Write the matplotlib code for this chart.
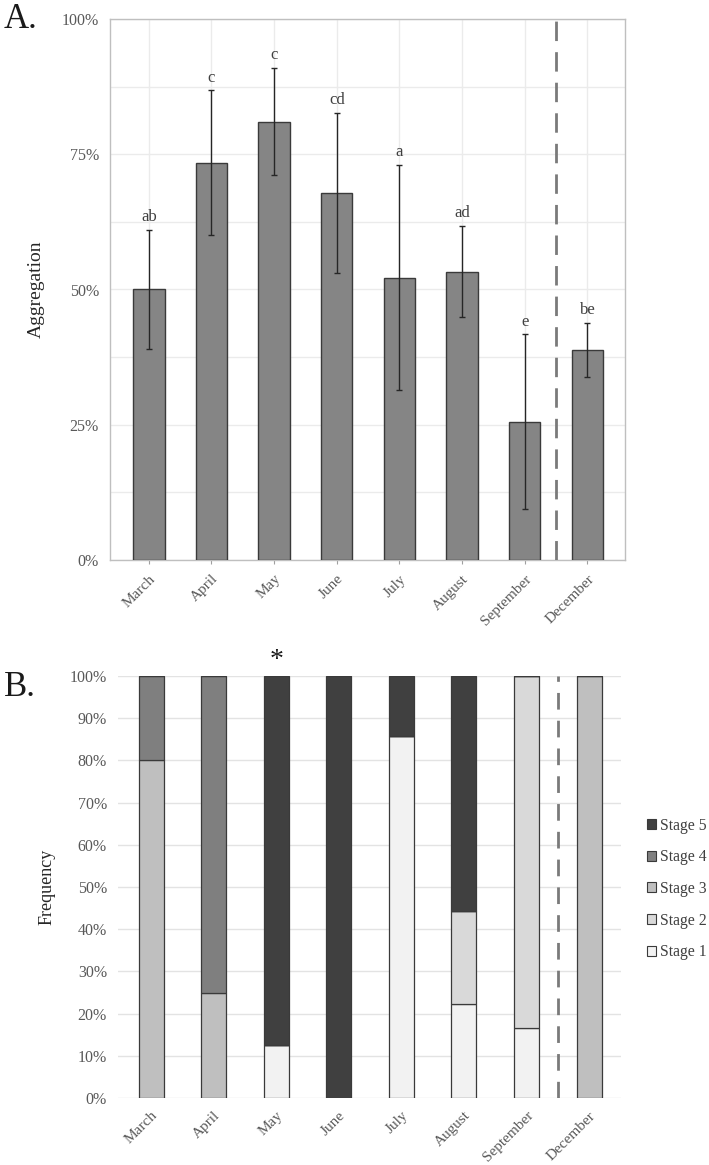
import matplotlib
matplotlib.use("Agg")
import matplotlib.pyplot as plt
import numpy as np
from matplotlib.patches import Patch

plt.rcParams['font.family'] = ['Liberation Serif', 'DejaVu Serif']

months = ["March", "April", "May", "June", "July", "August", "September", "December"]
aggregation = [50.0, 73.4, 81.0, 67.8, 52.2, 53.3, 25.6, 38.9]
agg_err = [11.0, 13.4, 9.9, 14.8, 20.8, 8.4, 16.1, 5.0]
letters = ["ab", "c", "c", "cd", "a", "ad", "e", "be"]

stage_names = ["Stage 1", "Stage 2", "Stage 3", "Stage 4", "Stage 5"]
stage1 = [0.0, 0.0, 12.5, 0.0, 85.7, 22.2, 16.7, 0.0]
stage2 = [0.0, 0.0, 0.0, 0.0, 0.0, 22.2, 83.3, 0.0]
stage3 = [80.0, 25.0, 0.0, 0.0, 0.0, 0.0, 0.0, 100.0]
stage4 = [20.0, 75.0, 0.0, 0.0, 0.0, 0.0, 0.0, 0.0]
stage5 = [0.0, 0.0, 87.5, 100.0, 14.3, 55.6, 0.0, 0.0]
stage_colors = ["#f2f2f2", "#d9d9d9", "#bfbfbf", "#7f7f7f", "#404040"]

W, H = 709, 1165
fig = plt.figure(figsize=(W / 100, H / 100), dpi=100)

x = np.arange(len(months))
tick_color = "#595959"

# ---------- Panel A ----------
axA = fig.add_axes([110 / W, 1 - 560 / H, (625 - 110) / W, (560 - 19) / H])
axA.bar(x, aggregation, width=0.5, color="#858585", edgecolor="#3a3a3a", linewidth=1.0, zorder=3)
axA.errorbar(x, aggregation, yerr=agg_err, fmt="none", ecolor="#262626", elinewidth=1.0,
             capsize=2, capthick=1.0, zorder=4)
for xi, v, e, lab in zip(x, aggregation, agg_err, letters):
    axA.text(xi, v + e + 0.9, lab, ha="center", va="bottom", fontsize=12, color="#404040")
axA.set_xlim(-0.62, 7.6)
axA.set_ylim(0, 100)
axA.set_yticks([0, 25, 50, 75, 100])
axA.set_yticklabels(["0%", "25%", "50%", "75%", "100%"], fontsize=11.5, color=tick_color)
axA.set_yticks(np.arange(0, 101, 12.5), minor=True)
axA.yaxis.grid(True, which="both", color="#ebebeb", linewidth=1.0, zorder=0)
axA.tick_params(axis="y", which="both", length=0, pad=8)
axA.set_xticks(x)
axA.set_xticklabels(months, rotation=45, ha="right", rotation_mode="anchor", fontsize=11, color=tick_color)
axA.tick_params(axis="x", length=3, color="#a0a0a0", pad=6)
axA.xaxis.grid(True, color="#ebebeb", linewidth=1.0, zorder=0)
for s in axA.spines.values():
    s.set_color("#bfbfbf")
    s.set_linewidth(1.0)
axA.axvline(6.5, color="#7a7a7a", linewidth=2, linestyle=(0, (7, 4)), zorder=5)
axA.set_ylabel("Aggregation", fontsize=14, color="#262626", labelpad=12)
fig.text(4 / W, 1 - 20 / H, "A.", fontsize=25, ha="left", va="center", color="#1a1a1a")

# ---------- Panel B ----------
axB = fig.add_axes([118 / W, 1 - 1098 / H, (621 - 118) / W, (1098 - 676) / H])
bottom = np.zeros(len(months))
handles = []
for name, vals, col in zip(stage_names, [stage1, stage2, stage3, stage4, stage5], stage_colors):
    vals = np.array(vals)
    axB.bar(x, vals, bottom=bottom, width=0.4, color=col, edgecolor="#3a3a3a", linewidth=0.9, zorder=3)
    bottom += vals
    handles.append(Patch(facecolor=col, edgecolor="#3a3a3a", linewidth=0.8, label=name))
axB.set_xlim(-0.53, 7.51)
axB.set_ylim(0, 100)
axB.set_yticks(np.arange(0, 101, 10))
axB.set_yticklabels([f"{v}%" for v in range(0, 101, 10)], fontsize=11.5, color=tick_color)
axB.yaxis.grid(True, color="#e3e3e3", linewidth=1.0, zorder=0)
axB.tick_params(axis="y", length=0, pad=8)
axB.set_xticks(x)
axB.set_xticklabels(months, rotation=45, ha="right", rotation_mode="anchor", fontsize=11, color=tick_color)
axB.tick_params(axis="x", length=0, pad=8)
for s in axB.spines.values():
    s.set_visible(False)
axB.axvline(6.5, color="#7a7a7a", linewidth=2, linestyle=(0, (6, 4)), zorder=5)
axB.set_ylabel("Frequency", fontsize=13, color="#262626", labelpad=10)
axB.text(2, 100.6, "*", ha="center", va="bottom", fontsize=20, color="#1a1a1a")
fig.text(4 / W, 1 - 688 / H, "B.", fontsize=25, ha="left", va="center", color="#1a1a1a")

leg = fig.legend(handles=handles[::-1], loc="center left", bbox_to_anchor=(647 / W, 1 - 889 / H),
                 frameon=False, fontsize=11.3, handlelength=0.6, handleheight=0.6,
                 handletextpad=0.2, labelspacing=1.0, borderpad=0, borderaxespad=0)
for t in leg.get_texts():
    t.set_color("#404040")

fig.savefig("out.png", dpi=100)
